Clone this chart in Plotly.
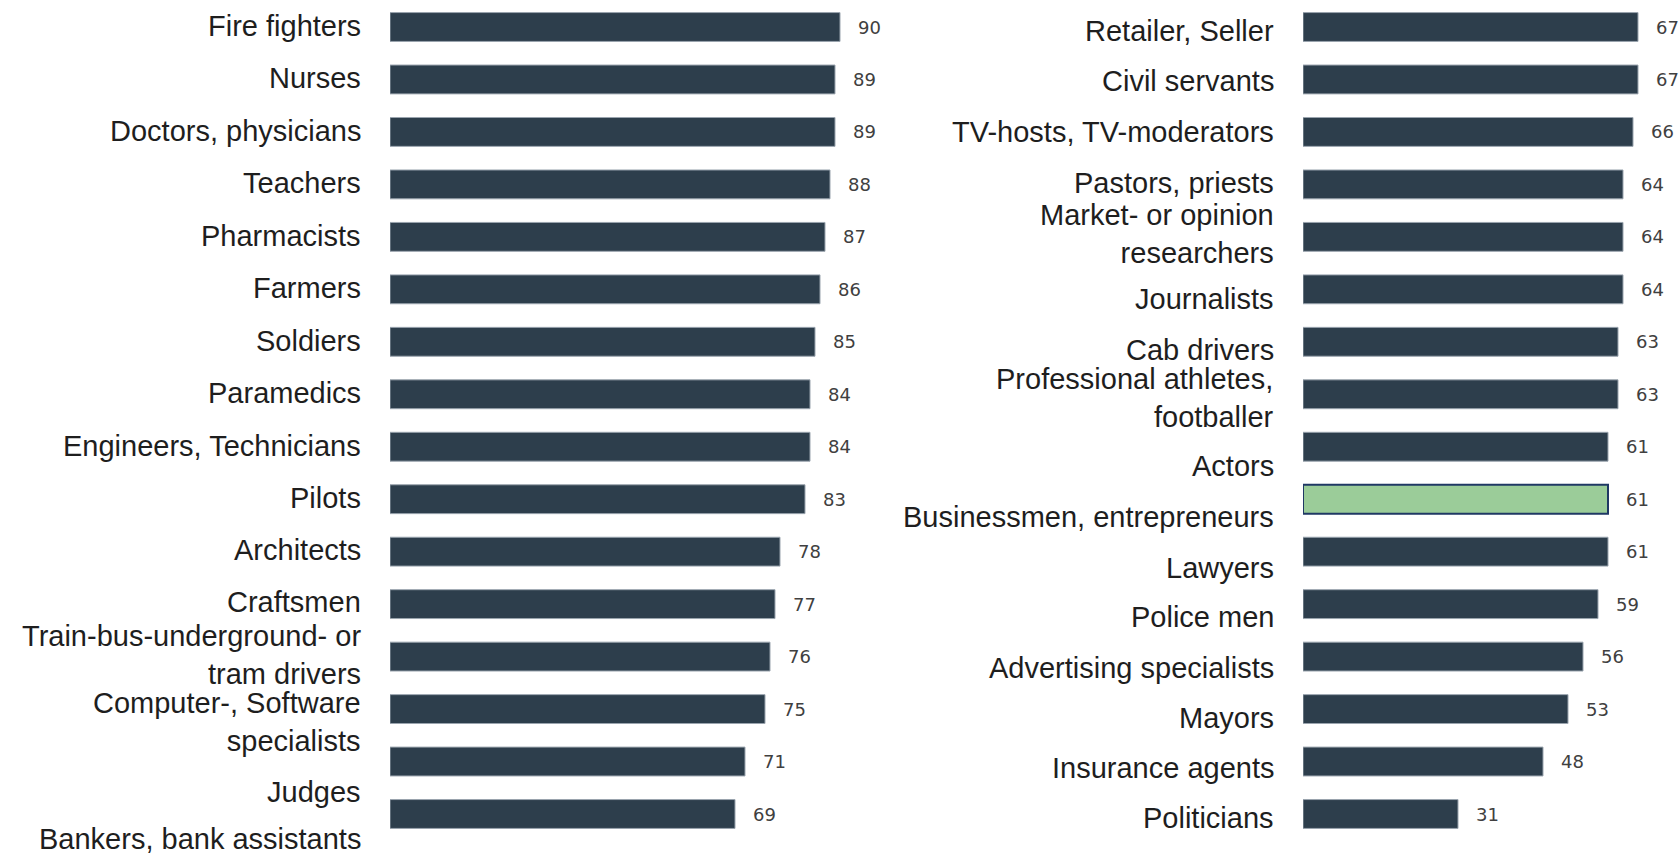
import plotly.graph_objects as go

# ---- data ----
left_labels = [
    "Fire fighters", "Nurses", "Doctors, physicians", "Teachers", "Pharmacists",
    "Farmers", "Soldiers", "Paramedics", "Engineers, Technicians", "Pilots",
    "Architects", "Craftsmen", "Train-bus-underground- or<br>tram drivers",
    "Computer-, Software<br>specialists", "Judges", "Bankers, bank assistants",
]
left_values = [90, 89, 89, 88, 87, 86, 85, 84, 84, 83, 78, 77, 76, 75, 71, 69]

right_labels = [
    "Retailer, Seller", "Civil servants", "TV-hosts, TV-moderators", "Pastors, priests",
    "Market- or opinion<br>researchers", "Journalists", "Cab drivers",
    "Professional athletes,<br>footballer", "Actors", "Businessmen, entrepreneurs",
    "Lawyers", "Police men", "Advertising specialists", "Mayors", "Insurance agents",
    "Politicians",
]
right_values = [67, 67, 66, 64, 64, 64, 63, 63, 61, 61, 61, 59, 56, 53, 48, 31]

highlight = "Businessmen, entrepreneurs"

# ---- style ----
W, H = 1680, 856
PX_PER_UNIT = 5.0
BAR = "#2D3E4C"
BAR_EDGE = "#9AA4AE"
HL_FILL = "#9BCC99"
HL_EDGE = "#1F3864"
LABEL_FONT = dict(family="Liberation Sans, Arial, sans-serif", size=29, color="#1E1E1E")
VALUE_FONT = dict(family="DejaVu Sans, Verdana, sans-serif", size=18, color="#404040")
LABEL_GAP = 27  # px between label right edge and bar base
# downward drift (px) of category labels relative to their bars, as in the original layout
left_label_drift = [1, 1, 1, 1, 1, 1, 1, 1, 1, 1, 2, 2, 2, -13, -30, -25]
right_label_drift = [-4, -2, 0, 1, 3, -10, -8, -4, -19, -18, -16, -13, -11, -9, -6, -4]

left_x0, left_x1 = 390, 900
right_x0, right_x1 = 1303, 1680

fig = go.Figure()

def add_panel(labels, values, drift, xa, ya):
    colors = [HL_FILL if l == highlight else BAR for l in labels]
    edges = [HL_EDGE if l == highlight else BAR_EDGE for l in labels]
    ewidth = [2 if l == highlight else 1 for l in labels]
    fig.add_trace(go.Bar(
        x=values, y=labels, orientation="h", width=0.55,
        marker=dict(color=colors, line=dict(color=edges, width=ewidth)),
        xaxis=xa, yaxis=ya, hoverinfo="x+y", showlegend=False,
    ))
    for l, v, d in zip(labels, values, drift):
        fig.add_annotation(
            x=v, y=l, xref=xa, yref=ya, text=str(v), showarrow=False,
            xanchor="left", yanchor="middle", xshift=16, font=VALUE_FONT,
        )
        fig.add_annotation(
            x=0, y=l, xref=xa, yref=ya, text=l, showarrow=False,
            xanchor="right", yanchor="middle", align="right",
            xshift=-LABEL_GAP, yshift=d, font=LABEL_FONT,
        )

add_panel(left_labels, left_values, left_label_drift, "x", "y")
add_panel(right_labels, right_values, right_label_drift, "x2", "y2")

# y range so that row 0 centre at ~27 px and row 15 at ~814 px
step = (814 - 27) / 15.0
top = -0.5 - (27 - 0.5 * step) / step
bottom = top + H / step

yax_common = dict(
    type="category", range=[bottom, top], showgrid=False, zeroline=False,
    showline=False, showticklabels=False, ticks="", fixedrange=True,
)
xax_common = dict(visible=False, showgrid=False, zeroline=False, fixedrange=True)

fig.update_layout(
    width=W, height=H,
    margin=dict(l=0, r=0, t=0, b=0),
    paper_bgcolor="white", plot_bgcolor="white",
    xaxis=dict(domain=[left_x0 / W, left_x1 / W],
               range=[0, (left_x1 - left_x0) / PX_PER_UNIT], anchor="y", **xax_common),
    yaxis=dict(domain=[0, 1], anchor="x", categoryorder="array",
               categoryarray=left_labels, **yax_common),
    xaxis2=dict(domain=[right_x0 / W, right_x1 / W],
                range=[0, (right_x1 - right_x0) / PX_PER_UNIT], anchor="y2", **xax_common),
    yaxis2=dict(domain=[0, 1], anchor="x2", categoryorder="array",
                categoryarray=right_labels, **yax_common),
)

fig.write_html("out.html", config={"displayModeBar": False})
